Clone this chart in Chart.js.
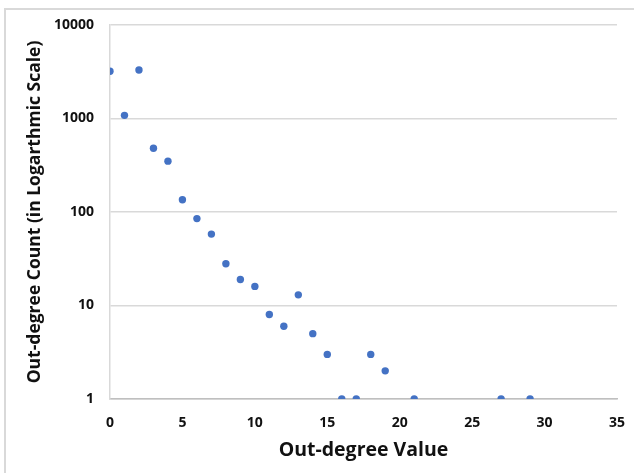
<!DOCTYPE html>
<html>
<head>
<meta charset="utf-8">
<script src="https://cdn.jsdelivr.net/npm/chart.js@4/dist/chart.umd.min.js"></script>
<style>
  html, body { margin: 0; padding: 0; background: #fff; }
  #wrap { position: relative; width: 634px; height: 473px; overflow: hidden; }
  #frame {
    position: absolute; left: 4px; top: 8px; width: 700px; height: 600px;
    border: 2px solid #d9d9d9; box-sizing: border-box;
  }
  #plot { position: absolute; left: 0; top: 0; }
</style>
</head>
<body>
<div id="wrap">
  <div id="frame"></div>
  <canvas id="plot" width="634" height="473"></canvas>
</div>
<script>
// out-degree value vs. count
const degreeValues = [0, 1, 2, 3, 4, 5, 6, 7, 8, 9, 10, 11, 12, 13, 14, 15, 16, 17, 18, 19, 21, 27, 29];
const degreeCounts = [3200, 1080, 3300, 480, 350, 135, 85, 58, 28, 19, 16, 8, 6, 13, 5, 3, 1, 1, 3, 2, 1, 1, 1];
const yTickValues = [1, 10, 100, 1000, 10000];

const FONT = "'Open Sans', 'DejaVu Sans', sans-serif";
const DOT = "#4472C4";
const GRID = "#d9d9d9";

const points = degreeValues.map((x, i) => ({ x, y: degreeCounts[i] }));

Chart.defaults.font.family = FONT;
Chart.defaults.color = "#111";

new Chart(document.getElementById("plot").getContext("2d"), {
  type: "scatter",
  data: {
    datasets: [{
      label: "Out-degree",
      data: points,
      backgroundColor: DOT,
      borderColor: DOT,
      pointRadius: 3.7,
      pointHoverRadius: 3.7,
      borderWidth: 0
    }]
  },
  options: {
    responsive: false,
    animation: false,
    layout: { padding: { left: 0, top: 25, right: 17, bottom: 0 } },
    plugins: { legend: { display: false }, tooltip: { enabled: false } },
    scales: {
      x: {
        type: "linear",
        min: 0, max: 35,
        grid: { display: false, drawTicks: false },
        border: { display: true, color: "#bfbfbf", width: 1.5 },
        ticks: {
          stepSize: 5,
          padding: 16,
          font: { size: 14, weight: "bold" },
          color: "#111"
        },
        title: {
          display: true,
          text: "Out-degree Value",
          font: { size: 19.5, weight: "bold" },
          color: "#111",
          padding: { top: 0, bottom: 11 }
        },
        // keep the tick padding from eating into the right side of the plot
        afterFit: (s) => { s.height = 74; s.paddingRight = 0; s.paddingLeft = 0; }
      },
      y: {
        type: "logarithmic",
        min: 1, max: 10000,
        grid: { color: GRID, lineWidth: 1.5, drawTicks: false },
        border: { display: true, color: GRID, width: 1.5 },
        afterBuildTicks: (s) => { s.ticks = yTickValues.map(v => ({ value: v })); },
        ticks: {
          padding: 16,
          font: { size: 14, weight: "bold" },
          color: "#111",
          callback: (v) => String(v)
        },
        title: {
          display: true,
          text: "Out-degree Count (in Logarthmic Scale)",
          font: { size: 17.5, weight: "bold" },
          color: "#111",
          padding: { top: 25, bottom: 0 }
        },
        afterFit: (s) => { s.width = 110; }
      }
    }
  }
});
</script>
</body>
</html>
